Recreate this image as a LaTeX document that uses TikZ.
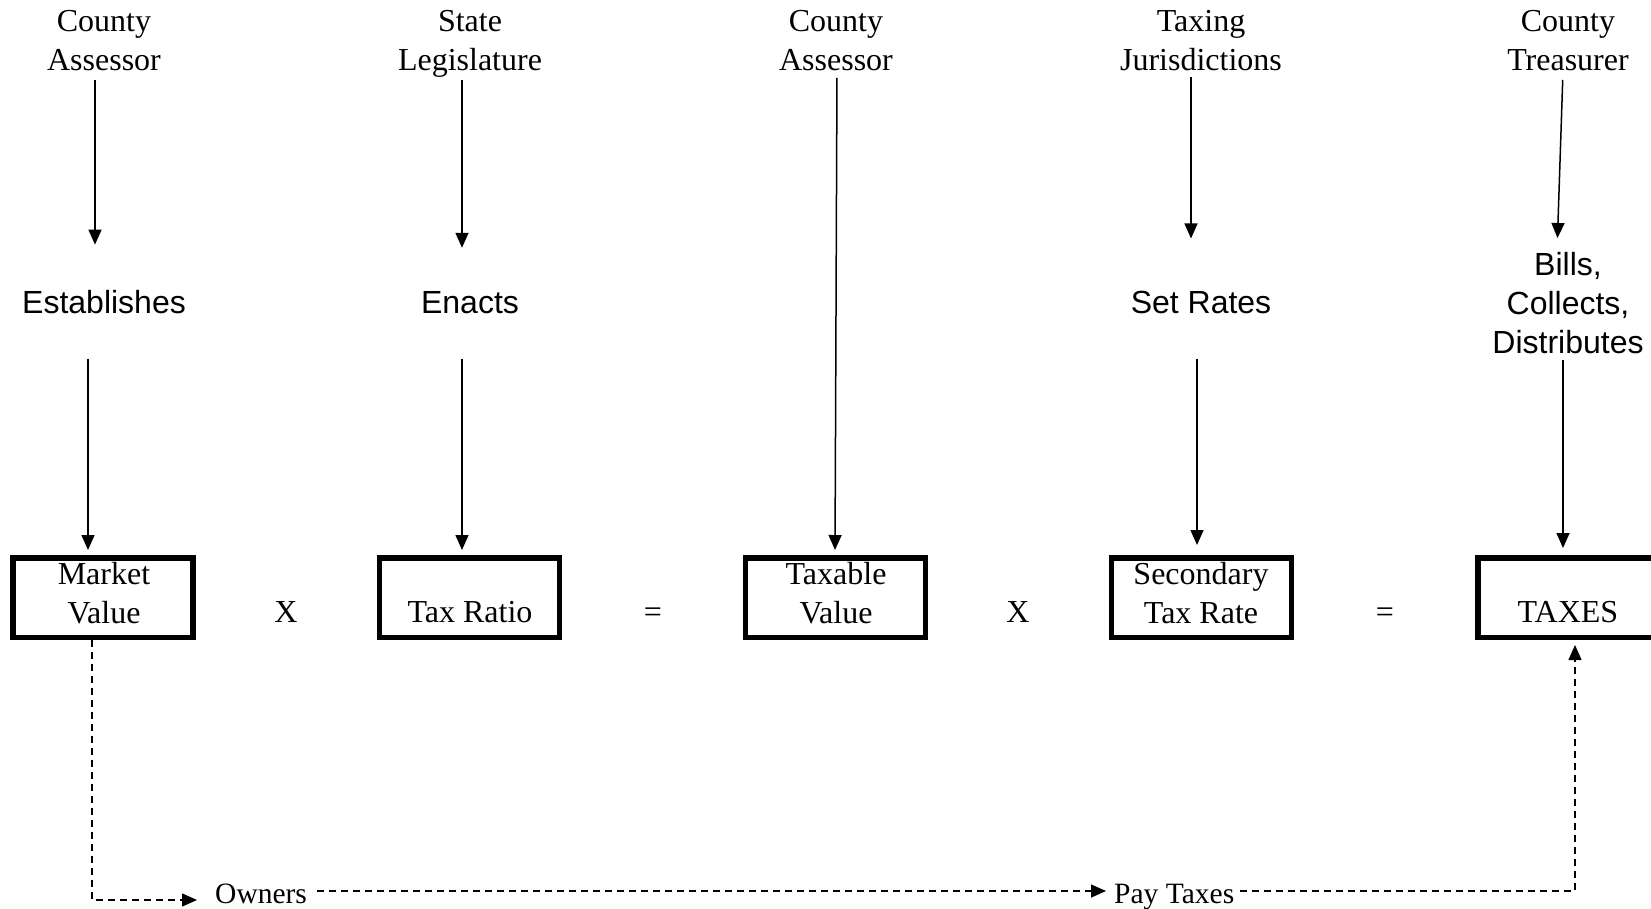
\documentclass[tikz,border=0pt]{standalone}
\usepackage{fontspec}
\setmainfont{Liberation Serif}
\newfontfamily\sansf{Liberation Sans}
\usetikzlibrary{arrows.meta}
\begin{document}
\begin{tikzpicture}[x=1pt,y=-1pt,
 who/.style={font=\fontsize{32}{39}\selectfont, align=center, inner sep=0pt, anchor=north},
 act/.style={font=\sansf\fontsize{32}{39}\selectfont, align=center, inner sep=0pt},
 box/.style={draw, line width=5.5pt, minimum width=180pt, minimum height=79.5pt, inner sep=0pt},
 btxt/.style={font=\fontsize{32}{39}\selectfont, align=center, inner sep=0pt},
 low/.style={font=\fontsize{29.5}{36}\selectfont, inner sep=0pt, text height=26pt, text depth=2pt, anchor=base west},
 arr/.style={line width=1.5pt, -{Triangle[length=15pt,width=13pt]}},
 darr/.style={line width=1.5pt, dash pattern=on 7pt off 5pt, -{Triangle[length=15pt,width=13pt]}}
]
\useasboundingbox (0,0) rectangle (1651,908);
% top actors
\node[who] (ca1) at (104,10) {County\\Assessor};
\node[who] (sl)  at (470,10) {State\\Legislature};
\node[who] (ca2) at (836,10) {County\\Assessor};
\node[who] (tj)  at (1201,10) {Taxing\\Jurisdictions};
\node[who] (ct)  at (1568,10) {County\\Treasurer};
% actions
\node[act, anchor=base] (est) at (104,313) {Establishes};
\node[act, anchor=base] (ena) at (470,313) {Enacts};
\node[act, anchor=base] (set) at (1201,313) {Set Rates};
\node[act, anchor=north] (bcd) at (1568,252) {Bills,\\Collects,\\Distributes};
% boxes
\node[box] (mv) at (103,597.5) {};
\node[box] (tr) at (469.5,597.5) {};
\node[box] (tv) at (835.5,597.5) {};
\node[box] (sr) at (1201.5,597.5) {};
\node[box] (tx) at (1568,597.5) {};
\node[btxt, anchor=north] (mvt) at (104,562) {Market\\Value};
\node[btxt, anchor=base] (trt) at (470,622.5) {Tax Ratio};
\node[btxt, anchor=north] (tvt) at (836,562) {Taxable\\Value};
\node[btxt, anchor=north] (srt) at (1201,562) {Secondary\\Tax Rate};
\node[btxt, anchor=base] (txt) at (1568,622.5) {TAXES};
% operators
\node[btxt, anchor=base] (op1) at (286,622.5) {X};
\node[btxt, anchor=base] (op2) at (653,622.5) {=};
\node[btxt, anchor=base] (op3) at (1018,622.5) {X};
\node[btxt, anchor=base] (op4) at (1385,622.5) {=};
% arrows
\draw[arr, shorten <=9pt, shorten >=45pt] (ca1.south -| 95,0) -- (est.north -| 95,0);
\draw[arr, shorten <=45pt, shorten >=5pt] (est.south -| 88,0) -- (mv.north -| 88,0);
\draw[arr, shorten <=2.5pt, shorten >=43pt] (sl.south -| 462,0) -- (ena.north -| 462,0);
\draw[arr, shorten <=45pt, shorten >=5pt] (ena.south -| 462,0) -- (tr.north -| 462,0);
\draw[arr, shorten <=7pt, shorten >=5pt] (ca2.south -| 837,0) -- (tv.north -| 835,0);
\draw[arr, shorten <=6.5pt, shorten >=52pt] (tj.south -| 1191,0) -- (set.north -| 1191,0);
\draw[arr, shorten <=45pt, shorten >=10pt] (set.south -| 1197,0) -- (sr.north -| 1197,0);
\draw[arr, shorten <=9pt, shorten >=14pt] (ct.south -| 1563,0) -- (bcd.north -| 1557,0);
\draw[arr, shorten <=6pt, shorten >=7pt] (bcd.south -| 1563,0) -- (tx.north -| 1563,0);
% bottom flow
\node[low] (own) at (215,903) {Owners};
\node[low] (pay) at (1114,903) {Pay Taxes};
\draw[darr, shorten >=18pt] (mv.south -| 92,0) |- ([yshift=-9pt]own.west);
\draw[darr, shorten <=10pt, shorten >=8pt] (own.east) -- (pay.west);
\draw[darr, shorten <=6pt, shorten >=5pt] (pay.east) -| (tx.south -| 1575,0);
\end{tikzpicture}
\end{document}
